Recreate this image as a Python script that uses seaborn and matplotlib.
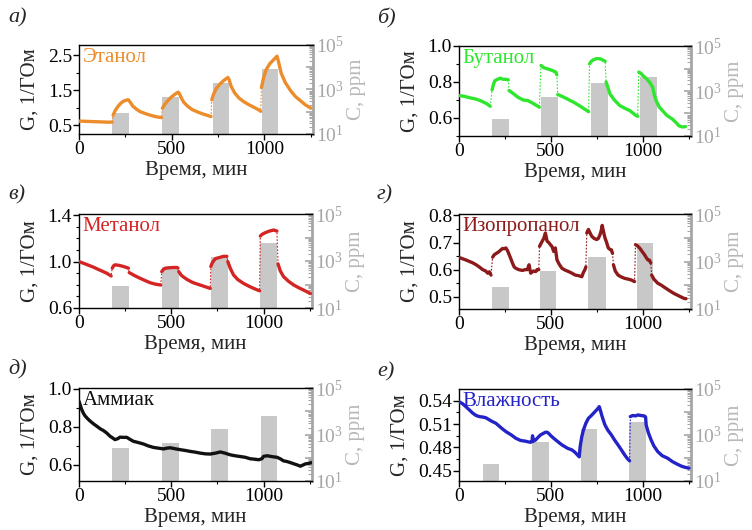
import numpy as np
import pandas as pd
import matplotlib
matplotlib.use("Agg")
import matplotlib.pyplot as plt
import seaborn as sns
from matplotlib.ticker import (FixedLocator, FormatStrFormatter, LogLocator,
                               NullFormatter, FuncFormatter)

# ---------------------------------------------------------------- data
# time, min / conductance G, 1/GOhm; each inner list is a continuous piece
ETHANOL_T = [
    [0, 50, 100, 150, 178],
    [184, 195, 210, 225, 240, 255, 266, 275, 290, 310, 330, 360, 390, 420, 445],
    [450, 460, 475, 490, 505, 520, 535, 542, 550, 565, 585, 610, 640, 670, 700, 712],
    [716, 725, 740, 760, 780, 795, 803, 810, 820, 840, 863, 890, 916, 945, 970, 980],
    [984, 995, 1010, 1030, 1050, 1068, 1077, 1090, 1112, 1140, 1166, 1195, 1220, 1250],
]
ETHANOL_G = [
    [0.62, 0.61, 0.60, 0.59, 0.59],
    [0.79, 0.92, 1.04, 1.13, 1.19, 1.22, 1.23, 1.17, 1.05, 0.96, 0.89, 0.83, 0.78, 0.74, 0.72],
    [0.99, 1.08, 1.18, 1.27, 1.34, 1.40, 1.45, 1.40, 1.30, 1.16, 1.05, 0.95, 0.88, 0.82, 0.77, 0.75],
    [1.23, 1.38, 1.55, 1.68, 1.78, 1.84, 1.87, 1.80, 1.62, 1.42, 1.28, 1.17, 1.09, 1.01, 0.94, 0.90],
    [1.58, 1.85, 2.10, 2.27, 2.38, 2.48, 2.30, 2.00, 1.73, 1.50, 1.33, 1.20, 1.09, 0.99],
]

BUTANOL_T = [
    [0, 30, 60, 89, 120, 150, 170],
    [180, 188, 196, 210, 223, 240, 255, 268],
    [272, 290, 321, 350, 375, 405, 437],
    [446, 460, 482, 505, 527, 532],
    [537, 550, 571, 600, 625, 660, 696, 705],
    [710, 720, 732, 750, 768, 786, 795],
    [800, 810, 821, 845, 875, 900, 929, 964, 972],
    [978, 990, 1000, 1018, 1036, 1054, 1062, 1075, 1090, 1107, 1130, 1161, 1180, 1196, 1215, 1232],
]
BUTANOL_G = [
    [0.725, 0.72, 0.712, 0.706, 0.695, 0.68, 0.665],
    [0.756, 0.79, 0.808, 0.815, 0.821, 0.815, 0.815, 0.812],
    [0.753, 0.74, 0.715, 0.70, 0.697, 0.68, 0.66],
    [0.892, 0.88, 0.873, 0.865, 0.855, 0.84],
    [0.73, 0.725, 0.715, 0.70, 0.687, 0.665, 0.641, 0.635],
    [0.901, 0.915, 0.924, 0.93, 0.929, 0.92, 0.915],
    [0.80, 0.77, 0.734, 0.70, 0.669, 0.655, 0.641, 0.613, 0.61],
    [0.855, 0.848, 0.836, 0.82, 0.80, 0.77, 0.73, 0.69, 0.66, 0.641, 0.615, 0.594, 0.575, 0.557, 0.55, 0.552],
]

METHANOL_T = [
    [0, 40, 78, 115, 150, 174],
    [180, 188, 195, 215, 240, 255, 268],
    [272, 300, 331, 360, 385, 415, 443],
    [448, 456, 467, 490, 510, 530, 536],
    [540, 555, 584, 615, 656, 690, 711],
    [714, 722, 738, 760, 783, 801],
    [806, 820, 837, 860, 891, 920, 946, 978],
    [982, 992, 1009, 1030, 1054, 1072],
    [1078, 1090, 1108, 1135, 1163, 1190, 1217, 1253],
]
METHANOL_G = [
    [1.0, 0.976, 0.952, 0.925, 0.90, 0.876],
    [0.943, 0.965, 0.972, 0.968, 0.958, 0.95, 0.943],
    [0.905, 0.88, 0.856, 0.835, 0.818, 0.805, 0.798],
    [0.914, 0.93, 0.943, 0.947, 0.949, 0.949, 0.945],
    [0.914, 0.88, 0.847, 0.82, 0.798, 0.78, 0.769],
    [0.958, 0.99, 1.025, 1.035, 1.045, 1.045],
    [1.0, 0.94, 0.885, 0.845, 0.812, 0.788, 0.769, 0.748],
    [1.22, 1.235, 1.249, 1.262, 1.272, 1.263],
    [0.98, 0.92, 0.87, 0.83, 0.798, 0.775, 0.754, 0.725],
]

ISOPROPANOL_T = [
    [0, 20, 40, 57, 75, 93, 110, 129, 145, 156, 165, 174],
    [183, 192, 201, 215, 228, 237, 246, 255, 264, 273, 282, 291, 300, 309, 325, 345,
     360, 372, 381, 390, 405, 417, 425, 434],
    [438, 445, 452, 461, 470, 479, 488, 497, 506, 515, 524, 533, 545, 560, 578, 596,
     614, 632, 650, 668, 677, 685, 690],
    [695, 704, 713, 722, 735, 749, 758, 767, 774, 779, 786, 794, 803, 812, 820, 829, 835],
    [840, 850, 865, 883, 901, 920, 937, 955],
    [960, 970, 982, 995, 1009, 1018, 1027, 1036, 1043],
    [1048, 1060, 1081, 1100, 1117, 1135, 1153, 1170, 1188, 1206, 1224, 1235],
]
ISOPROPANOL_G = [
    [0.645, 0.64, 0.635, 0.63, 0.625, 0.618, 0.61, 0.60, 0.595, 0.587, 0.592, 0.58],
    [0.646, 0.655, 0.659, 0.665, 0.673, 0.678, 0.677, 0.68, 0.67, 0.655, 0.64, 0.624,
     0.61, 0.605, 0.60, 0.597, 0.60, 0.60, 0.618, 0.587, 0.595, 0.593, 0.60, 0.60],
    [0.686, 0.695, 0.704, 0.715, 0.735, 0.705, 0.70, 0.692, 0.685, 0.667, 0.68, 0.636,
     0.62, 0.605, 0.598, 0.593, 0.587, 0.58, 0.578, 0.574, 0.59, 0.60, 0.61],
    [0.735, 0.748, 0.735, 0.723, 0.715, 0.711, 0.715, 0.729, 0.745, 0.763, 0.74, 0.717,
     0.70, 0.68, 0.675, 0.673, 0.66],
    [0.618, 0.595, 0.58, 0.573, 0.568, 0.565, 0.562, 0.556],
    [0.692, 0.688, 0.68, 0.668, 0.655, 0.645, 0.636, 0.635, 0.625],
    [0.58, 0.565, 0.55, 0.543, 0.535, 0.527, 0.519, 0.512, 0.506, 0.50, 0.494, 0.493],
]

AMMONIA_T = [[
    0, 5, 14, 25, 33, 45, 60, 80, 96, 115, 132, 150, 168, 185, 195, 210, 222, 240,
    259, 275, 295, 320, 349, 375, 403, 430, 458, 475, 494, 520, 548, 575, 602, 630,
    656, 685, 711, 740, 765, 790, 819, 845, 873, 900, 928, 950, 973, 990, 1000, 1020,
    1036, 1055, 1072, 1090, 1108, 1125, 1145, 1165, 1181, 1199, 1215, 1226, 1245, 1262,
]]
AMMONIA_G = [[
    0.935, 0.92, 0.893, 0.87, 0.858, 0.845, 0.831, 0.815, 0.804, 0.79, 0.781, 0.768,
    0.751, 0.74, 0.733, 0.738, 0.746, 0.745, 0.745, 0.735, 0.724, 0.718, 0.71, 0.70,
    0.692, 0.688, 0.684, 0.688, 0.69, 0.685, 0.68, 0.676, 0.671, 0.667, 0.662, 0.658,
    0.657, 0.662, 0.668, 0.662, 0.653, 0.648, 0.644, 0.64, 0.632, 0.63, 0.627, 0.632,
    0.645, 0.648, 0.645, 0.642, 0.64, 0.632, 0.621, 0.618, 0.612, 0.605, 0.60, 0.593,
    0.60, 0.605, 0.608, 0.612,
]]

HUMIDITY_T = [
    [0, 20, 39, 57, 75, 93, 111, 130, 147, 175, 201, 230, 255, 285, 309, 335, 363,
     380, 390, 397, 400, 404, 417, 430, 443, 458, 470, 480, 488, 500, 515, 540, 560,
     590, 614, 630, 641, 654, 659, 668, 677, 690, 704, 720, 740, 752, 763, 770, 776,
     785, 794, 810, 829, 845, 865, 883, 901, 915, 928],
    [932, 945, 960, 973, 990, 1009, 1015, 1018, 1030, 1045, 1060, 1081, 1105, 1135,
     1160, 1188, 1210, 1233, 1251],
]
HUMIDITY_G = [
    [0.5388, 0.536, 0.532, 0.528, 0.524, 0.521, 0.5196, 0.519, 0.518, 0.514, 0.511,
     0.505, 0.5004, 0.496, 0.4918, 0.489, 0.488, 0.487, 0.4867, 0.4875, 0.495, 0.488,
     0.4897, 0.493, 0.496, 0.498, 0.4995, 0.4995, 0.498, 0.495, 0.4918, 0.487, 0.4833,
     0.479, 0.4769, 0.474, 0.4713, 0.468, 0.481, 0.494, 0.5025, 0.511, 0.5174, 0.521,
     0.526, 0.529, 0.5324, 0.527, 0.5217, 0.515, 0.5089, 0.502, 0.4961, 0.49, 0.4833,
     0.477, 0.4705, 0.466, 0.4628],
    [0.5196, 0.521, 0.5205, 0.5217, 0.521, 0.5204, 0.519, 0.5089, 0.499, 0.4897,
     0.482, 0.4747, 0.4695, 0.4662, 0.462, 0.4585, 0.456, 0.4543, 0.4535],
]

# exposure windows (start, end, min) and analyte concentration, ppm
ETHANOL_ON = [180, 450, 720, 985]
ETHANOL_OFF = [270, 540, 810, 1075]
ETHANOL_PPM = [90, 460, 1950, 8300]

BUTANOL_ON = [179, 446, 717, 984]
BUTANOL_OFF = [270, 536, 808, 1075]
BUTANOL_PPM = [57, 540, 2300, 4200]

METHANOL_ON = [181, 447, 714, 982]
METHANOL_OFF = [273, 539, 805, 1072]
METHANOL_PPM = [90, 550, 1500, 6000]

ISOPROPANOL_ON = [177, 438, 704, 967]
ISOPROPANOL_OFF = [270, 529, 797, 1058]
ISOPROPANOL_PPM = [87, 410, 1500, 5800]

AMMONIA_ON = [181, 449, 716, 984]
AMMONIA_OFF = [272, 540, 806, 1074]
AMMONIA_PPM = [270, 420, 1700, 6300]

HUMIDITY_ON = [129, 399, 662, 925]
HUMIDITY_OFF = [219, 488, 752, 1018]
HUMIDITY_PPM = [53, 480, 1800, 3800]

NAMES = ["Этанол", "Бутанол", "Метанол", "Изопропанол", "Аммиак", "Влажность"]
LETTERS = ["а)", "б)", "в)", "г)", "д)", "е)"]
X_TICKS = [0, 500, 1000]

# ---------------------------------------------------------------- style
sns.set_theme(style="ticks")
plt.rcParams["font.family"] = ["Liberation Serif", "DejaVu Serif"]
plt.rcParams["mathtext.fontset"] = "custom"
plt.rcParams["mathtext.rm"] = "Liberation Serif"
plt.rcParams["mathtext.it"] = "Liberation Serif:italic"
plt.rcParams["axes.linewidth"] = 1.0

W, H = 752, 530
fig = plt.figure(figsize=(W / 100, H / 100), dpi=100)
fig.patch.set_facecolor("white")

BAR_COLOR = "#c8c8c8"
RIGHT_COLOR = "#a6a6a6"
RIGHT_LABEL_COLOR = "#b8b8b8"
TICK_FS = 14
LABEL_FS = 15


def px_rect(x0, y0, x1, y1):
    return [x0 / W, 1 - y1 / H, (x1 - x0) / W, (y1 - y0) / H]


def pieces_frame(t_pieces, g_pieces):
    rows = []
    for k, (ts, gs) in enumerate(zip(t_pieces, g_pieces)):
        assert len(ts) == len(gs)
        for t, g in zip(ts, gs):
            rows.append((t, g, k))
    return pd.DataFrame(rows, columns=["t", "g", "piece"])


def right_label(v, pos):
    e = int(round(np.log10(v)))
    return rf"$10^{{{e}}}$" if e % 2 == 1 else ""


def draw_panel(rect, letter_xy, letter, name, color, t_pieces, g_pieces,
               on, off, ppm, ylim, yticks, yminor, yfmt):
    ax = fig.add_axes(rect)
    ax2 = ax.twinx()

    # concentration bars on the logarithmic right axis
    on, off, ppm = np.array(on), np.array(off), np.array(ppm, float)
    ax2.bar((on + off) / 2, ppm - 10, width=off - on, bottom=10,
            color=BAR_COLOR, edgecolor="none", zorder=1)
    ax2.set_yscale("log")
    ax2.set_ylim(10, 1e5)
    ax2.yaxis.set_major_locator(LogLocator(base=10, numticks=10))
    ax2.yaxis.set_major_formatter(FuncFormatter(right_label))
    ax2.yaxis.set_minor_locator(LogLocator(base=10, subs=np.arange(2, 10), numticks=10))
    ax2.yaxis.set_minor_formatter(NullFormatter())
    ax2.tick_params(axis="y", which="both", direction="in", colors=RIGHT_COLOR,
                    labelcolor=RIGHT_COLOR, labelsize=TICK_FS, pad=2)
    ax2.tick_params(axis="y", which="major", length=5, width=1.2)
    ax2.tick_params(axis="y", which="minor", length=3, width=0.8)
    for s in ("left", "top", "bottom"):
        ax2.spines[s].set_visible(False)
    ax2.spines["right"].set_color(RIGHT_COLOR)
    ax2.spines["right"].set_linewidth(2.0)
    ax2.set_ylabel("C, ppm", color=RIGHT_LABEL_COLOR, fontsize=LABEL_FS, labelpad=2)

    # conductance curve above the bars
    ax.set_zorder(ax2.get_zorder() + 1)
    ax.patch.set_visible(False)
    df = pieces_frame(t_pieces, g_pieces)
    ax.plot(df["t"], df["g"], ls=(0, (1.5, 1.5)), lw=0.8, color=color, zorder=2)
    sns.lineplot(data=df, x="t", y="g", units="piece", estimator=None, sort=False,
                 color=color, lw=2.4, ax=ax, legend=False, zorder=3)

    ax.set_xlim(0, 1262)
    ax.set_ylim(*ylim)
    ax.xaxis.set_major_locator(FixedLocator(X_TICKS))
    ax.xaxis.set_minor_locator(FixedLocator([250, 750, 1250]))
    ax.yaxis.set_major_locator(FixedLocator(yticks))
    ax.yaxis.set_minor_locator(FixedLocator(yminor))
    ax.yaxis.set_major_formatter(FormatStrFormatter(yfmt))
    ax.tick_params(axis="both", which="both", direction="out", colors="black",
                   labelsize=TICK_FS, pad=1)
    ax.tick_params(axis="both", which="major", length=4, width=1)
    ax.tick_params(axis="both", which="minor", length=2.5, width=0.8)
    ax.spines["right"].set_visible(False)
    for s in ("left", "top", "bottom"):
        ax.spines[s].set_color("black")
    ax.set_xlabel("Время, мин", fontsize=LABEL_FS, labelpad=2)
    ax.set_ylabel("G, 1/ГОм", fontsize=LABEL_FS, labelpad=6)

    ax.text(0.015, 0.97, name, transform=ax.transAxes, ha="left", va="top",
            color=color, fontsize=LABEL_FS, zorder=5)
    fig.text(letter_xy[0] / W, 1 - letter_xy[1] / H, letter, style="italic",
             fontsize=16, ha="left", va="center")
    return ax


draw_panel(px_rect(79, 45, 313, 134), (8, 18), LETTERS[0], NAMES[0], "#ec8c2a",
           ETHANOL_T, ETHANOL_G, ETHANOL_ON, ETHANOL_OFF, ETHANOL_PPM,
           (0.25, 2.8), [0.5, 1.5, 2.5], [1.0, 2.0], "%.1f")
draw_panel(px_rect(459, 46, 691, 136), (377, 18), LETTERS[1], NAMES[1], "#2ee62e",
           BUTANOL_T, BUTANOL_G, BUTANOL_ON, BUTANOL_OFF, BUTANOL_PPM,
           (0.5, 1.0), [0.6, 0.8, 1.0], [0.5, 0.7, 0.9], "%.1f")
draw_panel(px_rect(79, 214, 312, 308), (8, 195), LETTERS[2], NAMES[2], "#d42424",
           METHANOL_T, METHANOL_G, METHANOL_ON, METHANOL_OFF, METHANOL_PPM,
           (0.6, 1.41), [0.6, 1.0, 1.4], [0.7, 0.8, 0.9, 1.1, 1.2, 1.3], "%.1f")
draw_panel(px_rect(459, 214, 691, 309), (377, 195), LETTERS[3], NAMES[3], "#8c1a1a",
           ISOPROPANOL_T, ISOPROPANOL_G, ISOPROPANOL_ON, ISOPROPANOL_OFF, ISOPROPANOL_PPM,
           (0.455, 0.805), [0.5, 0.6, 0.7, 0.8], [0.55, 0.65, 0.75], "%.1f")
draw_panel(px_rect(79, 388, 312, 481), (8, 370), LETTERS[4], NAMES[4], "#111111",
           AMMONIA_T, AMMONIA_G, AMMONIA_ON, AMMONIA_OFF, AMMONIA_PPM,
           (0.515, 1.005), [0.6, 0.8, 1.0], [0.7, 0.9], "%.1f")
draw_panel(px_rect(459, 389, 691, 481), (377, 372), LETTERS[5], NAMES[5], "#2323c8",
           HUMIDITY_T, HUMIDITY_G, HUMIDITY_ON, HUMIDITY_OFF, HUMIDITY_PPM,
           (0.437, 0.555), [0.45, 0.48, 0.51, 0.54], [0.465, 0.495, 0.525], "%.2f")

fig.savefig("out.png", dpi=100, facecolor="white")
